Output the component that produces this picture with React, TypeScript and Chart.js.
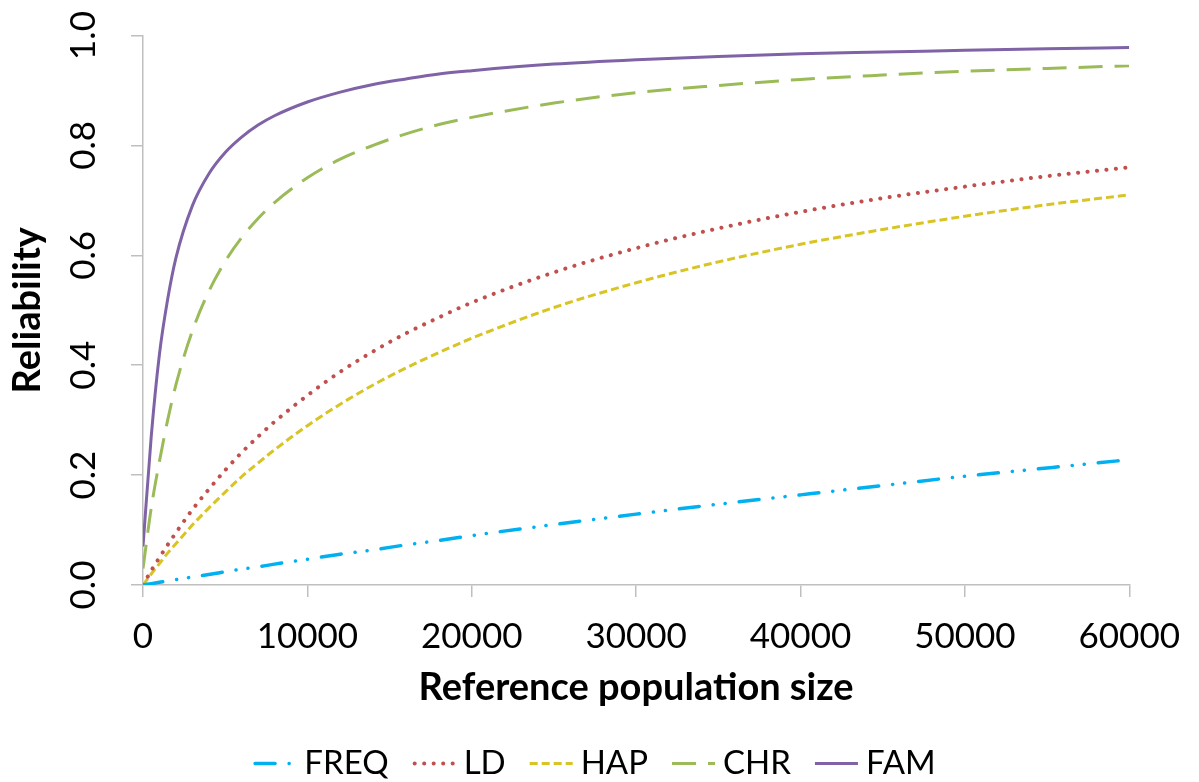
import React, { useEffect, useRef } from "react";
import { Chart, registerables } from "chart.js";

Chart.register(...registerables);

// Reference population size (x) sample positions
const POP_SIZE = [0, 500, 1000, 1500, 2000, 3000, 4000, 5000, 6000, 7000, 8000, 10000, 12000, 14000, 16000, 18000, 20000, 25000, 30000, 35000, 40000, 45000, 50000, 55000, 60000];

const FREQ = [0, 0.0025, 0.005, 0.0074, 0.0097, 0.0145, 0.019, 0.024, 0.029, 0.033, 0.038, 0.047, 0.056, 0.064, 0.073, 0.081, 0.09, 0.11, 0.129, 0.147, 0.164, 0.181, 0.198, 0.213, 0.228];
const LD = [0, 0.026, 0.05, 0.073, 0.095, 0.137, 0.174, 0.209, 0.241, 0.27, 0.297, 0.345, 0.388, 0.425, 0.458, 0.487, 0.514, 0.569, 0.613, 0.649, 0.679, 0.704, 0.725, 0.744, 0.76];
const HAP = [0, 0.02, 0.039, 0.058, 0.075, 0.109, 0.14, 0.169, 0.197, 0.222, 0.246, 0.29, 0.329, 0.364, 0.395, 0.423, 0.449, 0.505, 0.55, 0.588, 0.62, 0.647, 0.671, 0.692, 0.71];
const CHR = [0.03, 0.14, 0.225, 0.3, 0.364, 0.462, 0.534, 0.589, 0.632, 0.667, 0.696, 0.741, 0.775, 0.8, 0.821, 0.838, 0.851, 0.877, 0.896, 0.909, 0.92, 0.928, 0.935, 0.94, 0.945];
const FAM = [0.07, 0.27, 0.42, 0.52, 0.595, 0.69, 0.748, 0.787, 0.815, 0.837, 0.854, 0.879, 0.897, 0.911, 0.921, 0.93, 0.936, 0.948, 0.956, 0.962, 0.967, 0.97, 0.973, 0.976, 0.978];

const SERIES_NAMES = ["FREQ", "LD", "HAP", "CHR", "FAM"];
const SERIES_VALUES = [FREQ, LD, HAP, CHR, FAM];
const SERIES_COLORS = ["#00B0F0", "#C0504D", "#D8C424", "#9BBB59", "#7F63A6"];

const X_TICKS = [0, 10000, 20000, 30000, 40000, 50000, 60000];
const Y_TICKS = [0, 0.2, 0.4, 0.6, 0.8, 1.0];

const X_TITLE = "Reference population size";
const Y_TITLE = "Reliability";

const FONT = "Lato, 'Open Sans', sans-serif";

const STYLES = [
  { width: 3.5, dash: [20, 14, 0.1, 12, 0.1, 14], cap: "round" },
  { width: 4, dash: [0.1, 9.4], cap: "round" },
  { width: 3, dash: [8, 4], cap: "butt" },
  { width: 3, dash: [24, 12], cap: "butt" },
  { width: 3, dash: [], cap: "butt" },
];

const yTickLabelPlugin = {
  id: "yTickLabels",
  afterDraw(chart: any) {
    const ctx = chart.ctx;
    const ys = chart.scales.y;
    ctx.save();
    ctx.fillStyle = "#000";
    ctx.font = `35px ${FONT}`;
    ctx.textAlign = "center";
    ctx.textBaseline = "alphabetic";
    Y_TICKS.forEach((v) => {
      const py = ys.getPixelForValue(v);
      ctx.save();
      ctx.translate(ys.right - 48, py);
      ctx.rotate(-Math.PI / 2);
      ctx.fillText(v.toFixed(1), 0, 0);
      ctx.restore();
    });
    ctx.restore();
  },
};

const legendPlugin = {
  id: "lineLegend",
  afterDraw(chart: any) {
    const ctx = chart.ctx;
    const sample = 43;
    const gap = 8;
    const itemGap = 24;
    ctx.save();
    ctx.font = `33px ${FONT}`;
    const widths = chart.data.datasets.map((d: any) => sample + gap + ctx.measureText(d.label).width);
    const total = widths.reduce((a: number, b: number) => a + b, 0) + itemGap * (widths.length - 1);
    let x = chart.width / 2 - 5 - total / 2;
    const cy = chart.height - 18.5;
    chart.data.datasets.forEach((d: any, i: number) => {
      ctx.save();
      ctx.strokeStyle = d.borderColor;
      ctx.lineWidth = d.borderWidth;
      ctx.lineCap = d.borderCapStyle || "butt";
      ctx.setLineDash(d.borderDash || []);
      ctx.beginPath();
      const r = d.borderCapStyle === "round" ? d.borderWidth / 2 : 0;
      ctx.moveTo(x + r, cy);
      ctx.lineTo(x + sample - r, cy);
      ctx.stroke();
      ctx.restore();
      ctx.fillStyle = "#000";
      ctx.textAlign = "left";
      ctx.textBaseline = "middle";
      ctx.fillText(d.label, x + sample + gap, cy);
      x += widths[i] + itemGap;
    });
    ctx.restore();
  },
};

export default function App() {
  const canvasRef = useRef<HTMLCanvasElement | null>(null);

  useEffect(() => {
    const canvas = canvasRef.current;
    if (!canvas) return;
    const datasets = SERIES_NAMES.map((name, i) => ({
      label: name,
      data: POP_SIZE.map((x, j) => ({ x, y: SERIES_VALUES[i][j] })),
      borderColor: SERIES_COLORS[i],
      backgroundColor: SERIES_COLORS[i],
      borderWidth: STYLES[i].width,
      borderDash: STYLES[i].dash,
      borderCapStyle: STYLES[i].cap,
      pointRadius: 0,
      fill: false,
      cubicInterpolationMode: "monotone",
    }));

    const chart = new Chart(canvas, {
      type: "line",
      data: { datasets },
      plugins: [yTickLabelPlugin, legendPlugin],
      options: {
        animation: false,
        responsive: false,
        devicePixelRatio: 1,
        layout: { padding: { left: 0, right: 65.5, top: 35.5, bottom: 71 } },
        plugins: {
          legend: { display: false },
          tooltip: { enabled: false },
        },
        scales: {
          x: {
            type: "linear",
            min: 0,
            max: 60000,
            afterBuildTicks: (scale: any) => {
              scale.ticks = X_TICKS.map((v) => ({ value: v }));
            },
            afterFit: (scale: any) => {
              scale.height = 126;
            },
            ticks: {
              color: "#000",
              font: { family: FONT, size: 35 },
              padding: 19,
              maxRotation: 0,
              callback: (v: any) => String(v),
            },
            grid: {
              drawOnChartArea: false,
              drawTicks: true,
              tickLength: 12,
              color: "#BFBFBF",
              lineWidth: 1.5,
            },
            border: { display: true, color: "#BFBFBF", width: 1.5 },
            title: {
              display: true,
              text: X_TITLE,
              color: "#000",
              font: { family: FONT, size: 38, weight: "bold" },
              padding: { top: 0, bottom: 0 },
            },
          },
          y: {
            type: "linear",
            min: 0,
            max: 1,
            afterBuildTicks: (scale: any) => {
              scale.ticks = Y_TICKS.map((v) => ({ value: v }));
            },
            afterFit: (scale: any) => {
              scale.width = 143;
            },
            ticks: { display: false },
            grid: {
              drawOnChartArea: false,
              drawTicks: true,
              tickLength: 12,
              color: "#BFBFBF",
              lineWidth: 1.5,
            },
            border: { display: true, color: "#BFBFBF", width: 1.5 },
            title: {
              display: true,
              text: Y_TITLE,
              color: "#000",
              font: { family: FONT, size: 38, weight: "bold" },
              padding: { top: 5, bottom: 0 },
            },
          },
        },
      } as any,
    });
    return () => chart.destroy();
  }, []);

  return (
    <div style={{ position: "absolute", left: 0, top: 0, width: 1199, height: 782 }}>
      <canvas ref={canvasRef} width={1199} height={782} style={{ display: "block", width: 1199, height: 782 }} />
    </div>
  );
}
